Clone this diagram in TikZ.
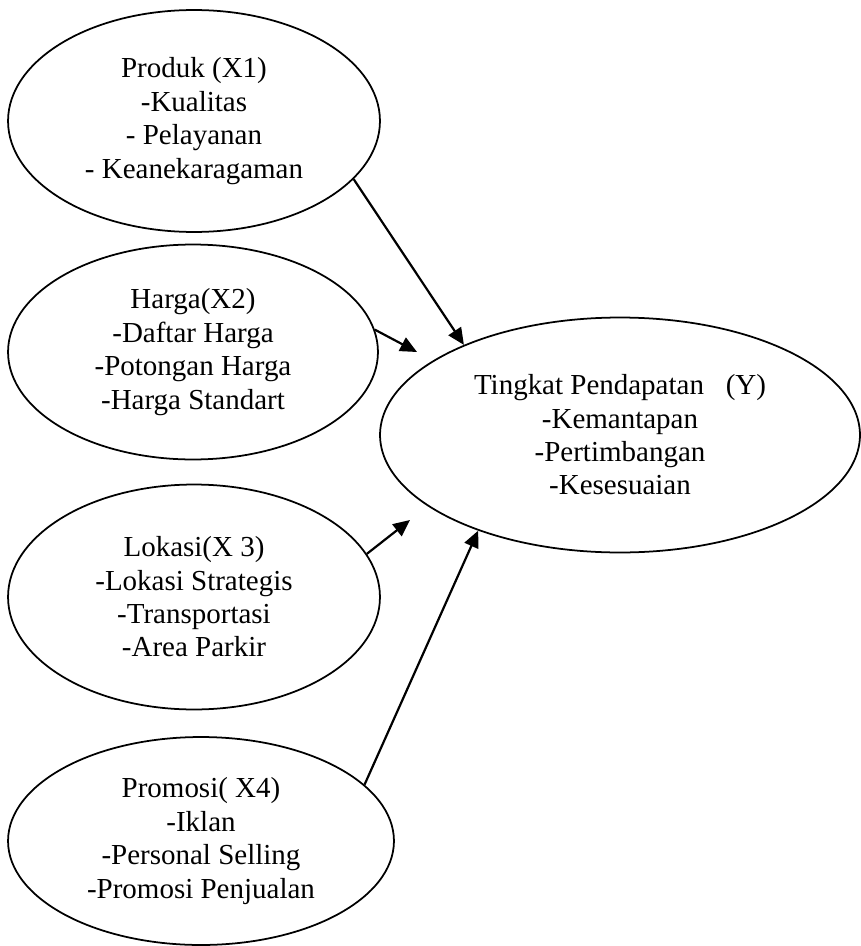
\documentclass[tikz,border=0pt]{standalone}
\usepackage{fontspec}
\setmainfont{Liberation Serif}
\usepackage{tikz}
\usetikzlibrary{arrows.meta,shapes.geometric}

\begin{document}
\begin{tikzpicture}[x=0.02cm, y=-0.02cm,
                    var/.style={draw, ellipse, line width=1pt, inner sep=0pt, align=center,
                                font=\fontsize{16.5}{19}\selectfont},
                    link/.style={->, line width=1.25pt},
                    >={Triangle[length=9.5pt,width=8.5pt]}]
                    \useasboundingbox (0,0) rectangle (861,946);

                    \node[var, minimum width=7.44cm, minimum height=4.44cm] (produk) at (194,121) {Produk (X1)\\-Kualitas\\- Pelayanan\\- Keanekaragaman};
                    \node[var, minimum width=7.4cm, minimum height=4.3cm] (harga) at (193,352) {Harga(X2)\\-Daftar Harga\\-Potongan Harga\\-Harga Standart};
                    \node[var, minimum width=7.44cm, minimum height=4.5cm] (lokasi) at (194,597) {Lokasi(X 3)\\-Lokasi Strategis\\-Transportasi\\-Area Parkir};
                    \node[var, minimum width=7.72cm, minimum height=4.16cm] (promosi) at (201,841) {Promosi( X4)\\-Iklan\\-Personal Selling\\-Promosi Penjualan};
                    \node[var, minimum width=9.6cm, minimum height=4.7cm] (tingkat) at (620,435) {Tingkat Pendapatan\ \ \ (Y)\\-Kemantapan\\-Pertimbangan\\-Kesesuaian};

                    \coordinate (tipharga) at (417,352);
                    \coordinate (tiplokasi) at (410,520);

                    \draw[link] (produk.-20) -- (tingkat.150);
                    \draw[link] (harga.7) -- (tipharga);
                    \draw[link] (lokasi.14) -- (tiplokasi);
                    \draw[link] (promosi.19) -- (tingkat.-146);
                \end{tikzpicture}
\end{document}
